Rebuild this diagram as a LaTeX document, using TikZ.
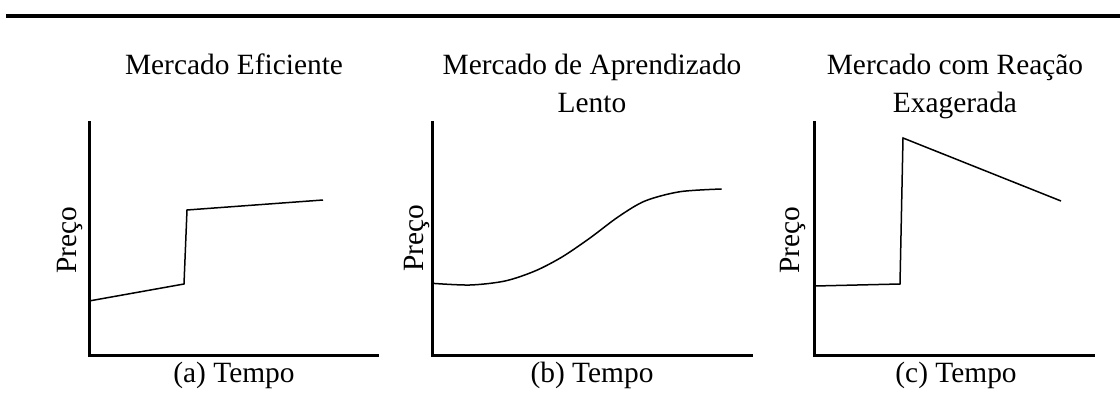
\documentclass[tikz,border=0pt]{standalone}
\usepackage{fontspec}
\setmainfont{Liberation Serif}
\begin{document}
\begin{tikzpicture}[x=1pt,y=-1pt,
  lbl/.style={font=\fontsize{29.4}{38}\selectfont, inner sep=0pt, anchor=base, align=center},
  ylbl/.style={lbl, rotate=90},
  axisline/.style={line width=3pt, line cap=rect},
  curveline/.style={line width=1.5pt, line join=miter}]
\useasboundingbox (0,0) rectangle (1120,414);
% top rule
\coordinate (r1) at (6,16);
\coordinate (r2) at (1120,16);
\draw[line width=4pt] (r1) -- (r2);

% titles
\node[lbl] (ta) at (234,75) {Mercado Eficiente};
\node[lbl] (tb1) at (592,75) {Mercado de Aprendizado};
\node[lbl] (tb2) at (592,113) {Lento};
\node[lbl] (tc1) at (955,75) {Mercado com Reação};
\node[lbl] (tc2) at (955,113) {Exagerada};

% panel a
\coordinate (a0) at (89,355);
\coordinate (ay) at (89,123);
\coordinate (ax) at (377,355);
\draw[axisline] (ay) -- (a0) -- (ax);
\coordinate (a1) at (89,301);
\coordinate (a2) at (184,284);
\coordinate (a3) at (187,210);
\coordinate (a4) at (323,200);
\draw[curveline] (a1) -- (a2) -- (a3) -- (a4);
\node[ylbl] (pa) at (76,240) {Preço};
\node[lbl] (xa) at (234,382) {(a) Tempo};

% panel b
\coordinate (b0) at (432,355);
\coordinate (by) at (432,123);
\coordinate (bx) at (751,355);
\draw[axisline] (by) -- (b0) -- (bx);
\draw[curveline] plot[smooth, tension=0.5] coordinates {(432,283.3) (470,285) (505,281) (535,271) (562,257) (590,238) (618,217) (645,201) (680,191.7) (721.7,189)};
\node[ylbl] (pb) at (423,238) {Preço};
\node[lbl] (xb) at (592,382) {(b) Tempo};

% panel c
\coordinate (c0) at (814,355);
\coordinate (cy) at (814,123);
\coordinate (cx) at (1093,355);
\draw[axisline] (cy) -- (c0) -- (cx);
\coordinate (c1) at (815,286);
\coordinate (c2) at (900,284);
\coordinate (c3) at (903,138);
\coordinate (c4) at (1061,201);
\draw[curveline] (c1) -- (c2) -- (c3) -- (c4);
\node[ylbl] (pc) at (799,240) {Preço};
\node[lbl] (xc) at (956,382) {(c) Tempo};
\end{tikzpicture}
\end{document}
